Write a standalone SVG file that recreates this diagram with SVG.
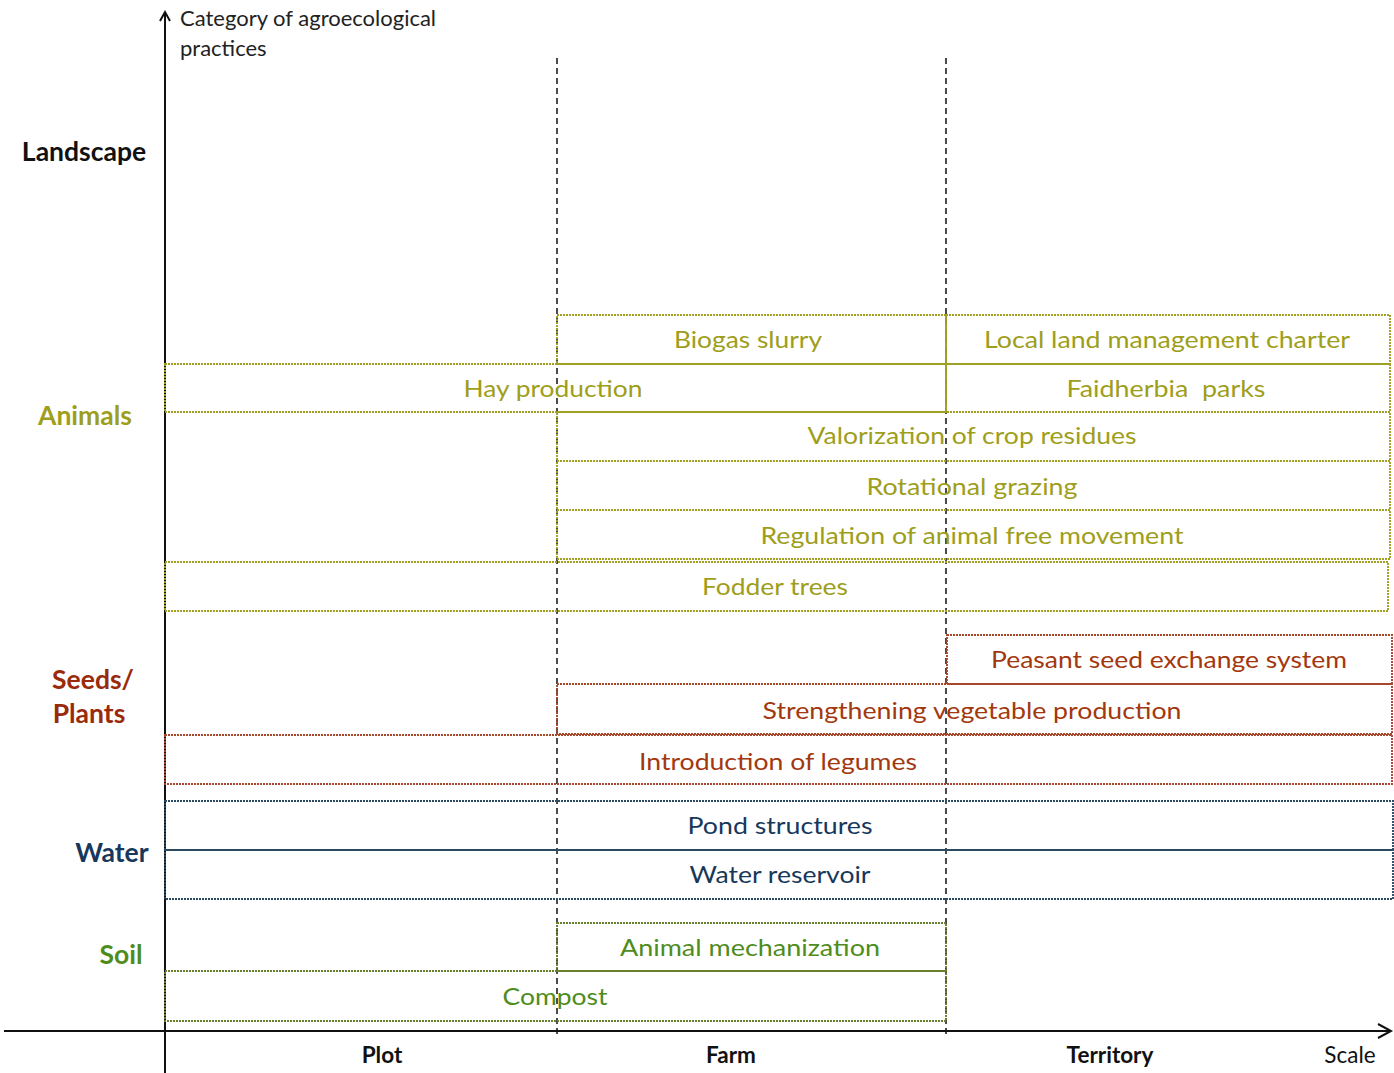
<svg xmlns="http://www.w3.org/2000/svg" width="1394" height="1073" viewBox="0 0 1394 1073">
<style>
text{font-family:Lato,"Open Sans","Liberation Sans",sans-serif;}
.lbl{font-size:24px;text-anchor:middle;dominant-baseline:central;}
.cat{font-size:26.5px;font-weight:bold;text-anchor:middle;dominant-baseline:central;}
.axl{font-size:22.5px;font-weight:bold;text-anchor:middle;dominant-baseline:central;fill:#111;}
.ttl{font-size:22px;fill:#222;dominant-baseline:central;}
.box{fill:none;stroke-width:1.9;stroke-dasharray:2 1;}
.an{stroke:#a0a024;} .ant{fill:#9e9e1a;}
.sd{stroke:#a8482a;} .sdt{fill:#a3380f;}
.wa{stroke:#2a4a62;} .wat{fill:#17385a;}
.so{stroke:#687f2c;} .sot{fill:#4e8c1c;}
.vd{stroke:#111;stroke-width:1.5;stroke-dasharray:6 4;fill:none;}
.ax{stroke:#111;stroke-width:2;fill:none;}
</style>
<rect width="1394" height="1073" fill="#fff"/>

<g id="connectors">
  <line class="vd" x1="557" y1="58" x2="557" y2="1036"/>
  <line class="vd" x1="946" y1="58" x2="946" y2="1036"/>
  <line class="ax" x1="165" y1="1073" x2="165" y2="13"/>
  <polyline class="ax" points="160,21 165,12 170,21"/>
  <line class="ax" x1="4" y1="1031" x2="1390" y2="1031"/>
  <polyline class="ax" points="1378,1024 1391,1031 1378,1038"/>
</g>

<g id="axis-title">
  <text class="ttl" x="180" y="17">Category of agroecological</text>
  <text class="ttl" x="180" y="47">practices</text>
</g>

<g id="cat-landscape"><text class="cat" x="84" y="151" fill="#111">Landscape</text></g>
<g id="cat-animals"><text class="cat" x="85" y="415" fill="#9e9e1a">Animals</text></g>
<g id="cat-seeds"><text class="cat" x="93" y="679" fill="#9a2a0c">Seeds/</text><text class="cat" x="89" y="713" fill="#9a2a0c">Plants</text></g>
<g id="cat-water"><text class="cat" x="112" y="852" fill="#17385a">Water</text></g>
<g id="cat-soil"><text class="cat" x="121" y="954" fill="#4e8c1c">Soil</text></g>

<g id="biogas-slurry"><rect class="box an" x="557" y="315" width="389" height="49"/><text class="lbl ant" x="748" y="338" textLength="148" lengthAdjust="spacingAndGlyphs">Biogas slurry</text></g>
<g id="local-land-charter"><rect class="box an" x="946" y="315" width="444" height="49"/><text class="lbl ant" x="1167" y="338" textLength="366" lengthAdjust="spacingAndGlyphs">Local land management charter</text></g>
<g id="hay-production"><rect class="box an" x="165" y="364" width="781" height="48"/><text class="lbl ant" x="553" y="387" textLength="179" lengthAdjust="spacingAndGlyphs">Hay production</text></g>
<g id="faidherbia-parks"><rect class="box an" x="946" y="364" width="444" height="48"/><text class="lbl ant" x="1166" y="387" textLength="199" lengthAdjust="spacingAndGlyphs" xml:space="preserve">Faidherbia  parks</text></g>
<g id="valorization"><rect class="box an" x="557" y="412" width="833" height="49"/><text class="lbl ant" x="972" y="434" textLength="329" lengthAdjust="spacingAndGlyphs">Valorization of crop residues</text></g>
<g id="rotational-grazing"><rect class="box an" x="557" y="461" width="833" height="49"/><text class="lbl ant" x="972" y="485" textLength="211" lengthAdjust="spacingAndGlyphs">Rotational grazing</text></g>
<g id="regulation"><rect class="box an" x="557" y="510" width="833" height="49"/><text class="lbl ant" x="972" y="534" textLength="423" lengthAdjust="spacingAndGlyphs">Regulation of animal free movement</text></g>
<g id="fodder-trees"><rect class="box an" x="165" y="562" width="1223" height="49"/><text class="lbl ant" x="775" y="585" textLength="146" lengthAdjust="spacingAndGlyphs">Fodder trees</text></g>

<g id="peasant-seed"><rect class="box sd" x="947" y="635" width="445" height="49"/><text class="lbl sdt" x="1169" y="658" textLength="356" lengthAdjust="spacingAndGlyphs">Peasant seed exchange system</text></g>
<g id="vegetable"><rect class="box sd" x="557" y="684" width="835" height="50"/><text class="lbl sdt" x="972" y="709" textLength="419" lengthAdjust="spacingAndGlyphs">Strengthening vegetable production</text></g>
<g id="legumes"><rect class="box sd" x="165" y="735" width="1227" height="49"/><text class="lbl sdt" x="778" y="760" textLength="278" lengthAdjust="spacingAndGlyphs">Introduction of legumes</text></g>

<g id="pond-structures"><rect class="box wa" x="165" y="801" width="1228" height="49"/><text class="lbl wat" x="780" y="824" textLength="185" lengthAdjust="spacingAndGlyphs">Pond structures</text></g>
<g id="water-reservoir"><rect class="box wa" x="165" y="850" width="1228" height="49"/><text class="lbl wat" x="780" y="873" textLength="181" lengthAdjust="spacingAndGlyphs">Water reservoir</text></g>

<g id="animal-mechanization"><rect class="box so" x="557" y="923" width="389" height="48"/><text class="lbl sot" x="750" y="946" textLength="260" lengthAdjust="spacingAndGlyphs">Animal mechanization</text></g>
<g id="compost"><rect class="box so" x="165" y="971" width="781" height="50"/><text class="lbl sot" x="555" y="995" textLength="105" lengthAdjust="spacingAndGlyphs">Compost</text></g>

<g id="x-labels">
  <text class="axl" x="382" y="1054">Plot</text>
  <text class="axl" x="731" y="1054">Farm</text>
  <text class="axl" x="1110" y="1054">Territory</text>
  <text class="axl" x="1350" y="1054" style="font-weight:normal">Scale</text>
</g>
</svg>
